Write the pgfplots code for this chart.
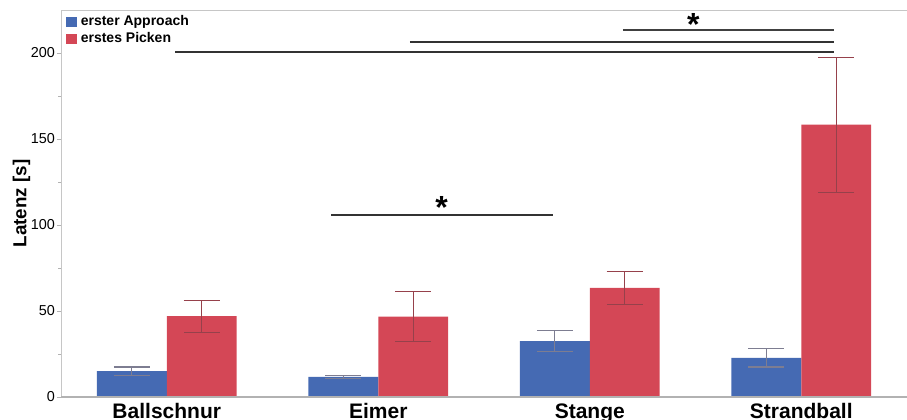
\documentclass[border=0pt]{standalone}
\usepackage{fontspec}
\setmainfont{Liberation Sans}
\usepackage{pgfplots}
\pgfplotsset{compat=1.18}
\definecolor{cblue}{RGB}{69,106,179}
\definecolor{cred}{RGB}{212,71,86}
\definecolor{eblue}{RGB}{125,125,145}
\definecolor{ered}{RGB}{150,65,75}
\begin{document}
\begin{tikzpicture}
\begin{axis}[
  scale only axis, width=423pt, height=193.5pt,
  xmin=-0.5, xmax=3.5, ymin=0, ymax=225,
  ybar=0pt, bar width=0.33,
  axis line style={draw=none},
  xtick={0,1,2,3}, xticklabels={Ballschnur,Eimer,Stange,Strandball},
  xticklabel style={font=\fontsize{10.5}{12}\selectfont\bfseries, yshift=2.2pt},
  x tick style={draw=none},
  ytick={0,50,100,150,200}, minor ytick={25,75,125,175},
  ytick pos=left, tick align=outside, major tick length=2pt, minor tick length=1.5pt,
  y tick style={gray!60},
  yticklabel style={font=\fontsize{7.2}{9}\selectfont, xshift=2.5pt},
  /pgf/number format/assume math mode=true,
  ylabel={Latenz [s]}, ylabel style={font=\fontsize{9.4}{11}\selectfont\bfseries},
  ylabel shift=-6.5pt,
  legend style={at={(rel axis cs:0,1)}, anchor=north west, draw=none, fill=none,
    font=\fontsize{7}{8}\selectfont\bfseries, inner sep=1pt, xshift=1.5pt, yshift=0.5pt,
    row sep=-2pt},
  legend cell align=left,
  legend image code/.code={\fill[#1] (0pt,-2.6pt) rectangle (5.2pt,2.6pt);},
]
\addplot[fill=cblue, draw=none,
  error bars/.cd, y dir=both, y explicit,
  error bar style={eblue, line width=0.6pt},
  error mark options={eblue, mark size=9pt, line width=0.6pt, rotate=90}]
  coordinates {(0,15.1) +- (0,2.4) (1,11.7) +- (0,1.0) (2,32.5) +- (0,6.2) (3,22.7) +- (0,5.3)};
\addlegendentry{erster Approach}
\addplot[fill=cred, draw=none,
  error bars/.cd, y dir=both, y explicit,
  error bar style={ered, line width=0.6pt},
  error mark options={ered, mark size=9pt, line width=0.6pt, rotate=90}]
  coordinates {(0,47.0) +- (0,9.3) (1,46.7) +- (0,14.5) (2,63.4) +- (0,9.8) (3,158.3) +- (0,39.2)};
\addlegendentry{erstes Picken}
% axis frame
\draw[gray!45, line width=0.6pt] (rel axis cs:0,1) -- (rel axis cs:1,1);
\draw[gray!45, line width=0.6pt] (rel axis cs:0,0) -- (rel axis cs:0,1);
\draw[gray!60, line width=0.6pt] (rel axis cs:0,0) -- (rel axis cs:1,0);
% significance
\draw[black!80, line width=1pt] (axis cs:0.04,200.6) -- (axis cs:3.155,200.6);
\draw[black!80, line width=1.1pt] (axis cs:1.15,206.4) -- (axis cs:3.155,206.4);
\draw[black!75, line width=0.6pt] (axis cs:2.157,213.4) -- (axis cs:3.155,213.4);
\node[font=\fontsize{16}{16}\selectfont\bfseries, anchor=center] at (axis cs:2.49,216.5) {*};
\draw[black!80, line width=1pt] (axis cs:0.777,105.8) -- (axis cs:1.826,105.8);
\node[font=\fontsize{16}{16}\selectfont\bfseries, anchor=center] at (axis cs:1.30,110) {*};
\coordinate (bl) at (rel axis cs:0,0);
\coordinate (tr) at (rel axis cs:1,1);
\end{axis}
\pgfresetboundingbox
\path ([xshift=-30.5pt,yshift=-11pt]bl) rectangle ([yshift=5pt]tr);
\end{tikzpicture}
\end{document}
